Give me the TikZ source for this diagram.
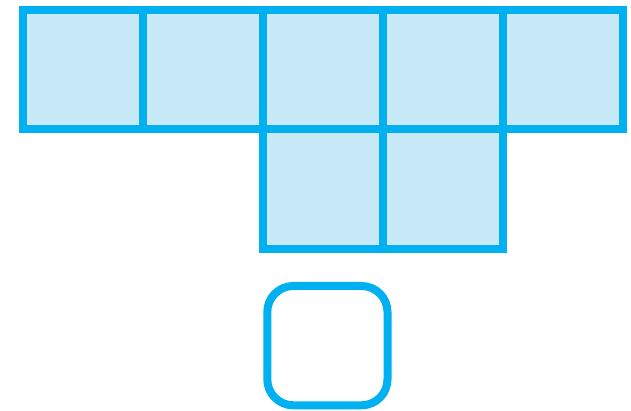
\documentclass[tikz,border=0pt]{standalone}
\definecolor{cyanline}{RGB}{0,176,240}
\definecolor{cyanfill}{RGB}{199,233,248}
\begin{document}
\begin{tikzpicture}[x=1pt,y=-1pt,
  cell/.style={draw=cyanline, fill=cyanfill, line width=8pt},
  blank/.style={draw=cyanline, line width=8pt, rounded corners=26pt}]
\useasboundingbox (0,0) rectangle (631,411);
\foreach \i in {0,...,4}
  \draw[cell] (23.3+120*\i,9.7) rectangle ++(120,119.6);
\foreach \i in {2,3}
  \draw[cell] (23.3+120*\i,129.3) rectangle ++(120,120);
\draw[blank] (267.3,286) rectangle (387.5,405.3);
\end{tikzpicture}
\end{document}
